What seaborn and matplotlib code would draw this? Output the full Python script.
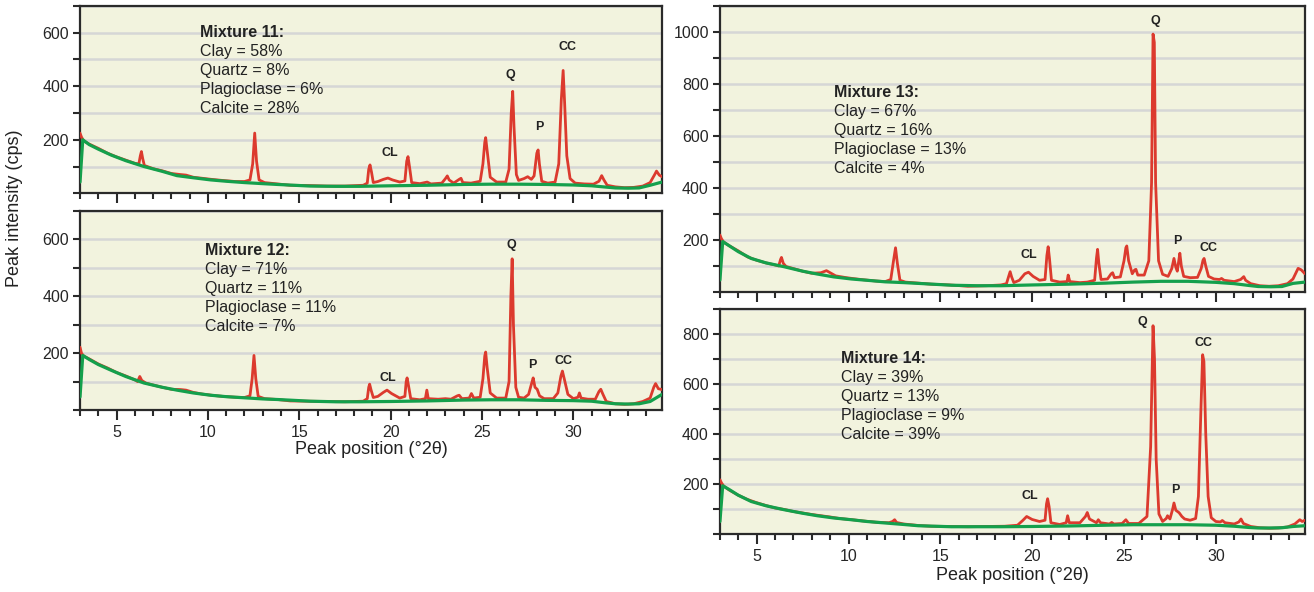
import matplotlib
matplotlib.use("Agg")
import matplotlib.pyplot as plt
from matplotlib.ticker import MultipleLocator
import seaborn as sns
import pandas as pd

# ---------------- data ----------------
bg_2theta = [3.0, 3.15, 3.5, 4.0, 4.7, 5.5, 6.5, 7.5, 8.3, 9.2, 10.15, 11, 12, 13, 13.8,
             15.6, 17, 18.3, 20, 22, 24, 25.5, 27, 28.5, 30, 31, 31.8, 32.3, 33, 33.6, 34.2, 34.85]

mix11_bg = [42, 200, 182, 165, 143, 122, 100, 82, 66, 58, 50, 45, 40, 36, 33,
            27, 26, 26, 28, 30, 33, 34, 34, 33, 31, 28, 23, 20, 19, 20, 30, 42]
mix12_bg = [46, 192, 178, 160, 140, 118, 95, 80, 70, 60, 52, 47, 43, 39, 37,
            31, 29, 29, 30, 32, 35, 36, 36, 34, 33, 31, 25, 22, 21, 22, 30, 55]
mix13_bg = [46, 194, 178, 155, 129, 112, 97, 80, 69, 58, 50, 45, 39, 36, 33,
            26, 24, 24, 27, 30, 34, 38, 41, 41, 37, 32, 25, 21, 20, 21, 33, 38]
mix14_bg = [50, 193, 178, 155, 130, 113, 97, 83, 73, 64, 57, 50, 44, 38, 33,
            29, 29, 29, 30, 32, 35, 37, 37, 37, 35, 31, 26, 24, 24, 25, 30, 33]

mix11_pts = [(3.0,225),(3.08,210),(3.2,196),(3.5,184),(4.0,168),(4.5,150),(5.0,136),(5.5,124),(6.0,112),
 (6.22,110),(6.3,140),(6.36,156),(6.43,130),(6.52,104),(7.0,92),(7.5,84),(8.0,74),(8.5,70),(8.8,68),
 (9.2,60),(9.7,56),(10.2,52),(10.8,48),(11.5,44),(12.0,44),(12.3,50),(12.45,110),(12.56,225),(12.66,120),
 (12.8,50),(13.1,40),(13.8,35),(14.5,30),(15.5,29),(16.5,27),(17.5,27),(18.5,30),(18.72,38),(18.8,90),
 (18.87,106),(18.95,80),(19.05,40),(19.3,44),(19.6,52),(19.85,57),(20.1,50),(20.5,42),(20.78,46),
 (20.88,120),(20.95,137),(21.03,100),(21.15,40),(21.6,36),(22.0,42),(22.2,35),(22.8,38),(23.0,55),
 (23.1,65),(23.2,50),(23.45,38),(23.75,52),(23.85,56),(23.95,40),(24.4,38),(24.9,45),(25.05,110),
 (25.15,190),(25.2,208),(25.28,160),(25.45,60),(25.8,42),(26.3,42),(26.48,90),(26.6,300),(26.68,381),
 (26.75,250),(26.88,70),(27.0,48),(27.3,55),(27.5,62),(27.7,52),(27.85,65),(28.0,150),(28.07,162),
 (28.14,110),(28.27,45),(28.6,38),(29.0,42),(29.2,110),(29.34,350),(29.44,459),(29.52,340),(29.64,140),
 (29.82,55),(30.1,38),(30.6,35),(31.1,34),(31.4,45),(31.55,66),(31.67,50),(31.85,30),(32.3,24),
 (32.8,21),(33.3,22),(33.8,27),(34.2,40),(34.45,70),(34.55,83),(34.7,68),(34.85,62)]

mix12_pts = [(3.0,221),(3.08,200),(3.2,190),(3.5,180),(4.0,162),(4.5,148),(5.0,132),(5.5,120),(6.0,106),
 (6.15,100),(6.27,118),(6.38,104),(6.6,95),(7.0,88),(7.5,80),(8.0,73),(8.5,72),(8.8,70),(9.2,62),
 (9.7,56),(10.2,52),(10.8,48),(11.5,45),(12.0,44),(12.3,50),(12.42,110),(12.52,192),(12.62,110),
 (12.75,48),(13.1,40),(13.8,37),(14.5,32),(15.5,31),(16.5,30),(17.5,29),(18.5,31),(18.72,40),(18.8,80),
 (18.85,91),(18.93,70),(19.05,44),(19.3,48),(19.6,62),(19.8,70),(20.05,58),(20.5,42),(20.78,48),
 (20.85,100),(20.9,113),(20.98,85),(21.1,40),(21.6,36),(21.9,40),(21.98,70),(22.06,40),(22.6,38),
 (23.0,40),(23.3,38),(23.65,50),(23.75,52),(23.9,40),(24.3,42),(24.42,58),(24.55,42),(24.9,45),
 (25.05,110),(25.15,190),(25.2,204),(25.28,150),(25.45,60),(25.8,42),(26.3,42),(26.48,100),(26.58,400),
 (26.65,532),(26.72,300),(26.85,80),(27.0,45),(27.3,42),(27.55,55),(27.72,95),(27.8,113),(27.9,80),
 (28.02,73),(28.15,50),(28.4,40),(28.9,40),(29.15,60),(29.32,120),(29.4,137),(29.5,110),(29.7,55),
 (30.0,40),(30.25,45),(30.33,60),(30.42,42),(30.8,38),(31.2,38),(31.4,65),(31.5,73),(31.62,55),
 (31.8,30),(32.3,22),(32.8,20),(33.3,22),(33.8,30),(34.2,42),(34.4,80),(34.5,93),(34.65,75),(34.85,72)]

mix13_pts = [(3.0,219),(3.08,205),(3.2,192),(3.5,178),(4.0,158),(4.5,135),(5.0,122),(5.5,112),(6.0,104),
 (6.2,100),(6.3,125),(6.35,133),(6.45,110),(6.6,98),(7.0,90),(7.5,80),(8.0,72),(8.5,74),(8.8,82),
 (9.0,74),(9.3,62),(9.8,56),(10.2,52),(10.8,47),(11.5,42),(12.0,40),(12.3,48),(12.45,120),(12.56,170),
 (12.66,110),(12.8,45),(13.1,38),(13.8,34),(14.5,30),(15.5,27),(16.5,22),(17.5,24),(18.3,27),(18.6,32),
 (18.72,60),(18.8,78),(18.88,58),(19.0,36),(19.3,45),(19.6,70),(19.8,76),(20.05,60),(20.4,45),(20.7,48),
 (20.8,140),(20.87,174),(20.94,130),(21.05,45),(21.5,38),(21.9,40),(21.96,65),(22.05,40),(22.6,36),
 (23.0,38),(23.4,45),(23.5,130),(23.56,164),(23.63,110),(23.75,48),(24.1,50),(24.3,70),(24.38,74),
 (24.48,55),(24.8,58),(25.0,120),(25.1,170),(25.15,177),(25.25,120),(25.45,70),(25.58,85),(25.65,87),
 (25.75,65),(26.1,65),(26.35,120),(26.5,420),(26.58,992),(26.65,960),(26.72,420),(26.88,120),(27.1,68),
 (27.4,60),(27.6,90),(27.72,129),(27.82,95),(27.9,80),(28.0,130),(28.04,149),(28.12,100),(28.25,60),
 (28.6,55),(29.0,56),(29.2,90),(29.3,122),(29.36,129),(29.45,100),(29.6,60),(29.9,50),(30.2,48),
 (30.31,52),(30.45,45),(31.0,40),(31.35,48),(31.52,59),(31.62,45),(31.9,32),(32.4,24),(32.9,22),
 (33.4,24),(33.9,32),(34.2,50),(34.48,91),(34.65,85),(34.85,70)]

mix14_pts = [(3.0,217),(3.08,205),(3.2,192),(3.5,176),(4.0,155),(4.5,138),(5.0,125),(5.5,114),(6.0,104),
 (6.5,98),(7.0,90),(7.5,84),(8.0,78),(8.5,73),(9.0,68),(9.5,62),(10.2,57),(10.8,52),(11.5,47),(12.2,45),
 (12.4,50),(12.51,57),(12.62,46),(13.0,40),(13.8,34),(14.5,31),(15.5,30),(16.5,29),(17.5,30),(18.5,31),
 (19.2,35),(19.5,55),(19.7,70),(20.0,58),(20.4,50),(20.7,55),(20.78,120),(20.84,141),(20.92,110),
 (21.02,45),(21.5,38),(21.85,45),(21.93,73),(22.02,45),(22.6,45),(22.9,70),(23.0,86),(23.12,60),
 (23.5,45),(23.6,57),(23.72,45),(24.2,40),(24.33,46),(24.45,40),(24.9,42),(25.1,57),(25.25,42),
 (25.8,42),(26.25,70),(26.45,350),(26.58,833),(26.66,700),(26.75,300),(26.9,80),(27.1,50),(27.3,62),
 (27.37,73),(27.5,60),(27.65,100),(27.72,124),(27.82,95),(28.0,85),(28.15,70),(28.3,60),(28.6,55),
 (28.9,62),(29.05,150),(29.18,480),(29.28,717),(29.35,690),(29.45,400),(29.58,150),(29.75,65),
 (30.0,50),(30.25,48),(30.35,54),(30.5,45),(31.0,40),(31.25,48),(31.37,60),(31.5,42),(31.9,30),
 (32.4,25),(32.9,23),(33.4,24),(33.9,28),(34.3,40),(34.57,57),(34.7,50),(34.85,55)]

peak_names = ["CL", "Q", "P", "CC"]
mix11_labels = [(19.97, 151), (26.57, 443), (28.14, 249), (29.67, 545)]
mix12_labels = [(19.82, 113), (26.59, 579), (27.76, 159), (29.45, 172)]
mix13_labels = [(19.84, 142), (26.72, 1041), (27.9, 197), (29.58, 168)]
mix14_labels = [(19.88, 150), (26.0, 846), (27.8, 174), (29.31, 764)]

mix_titles = ["Mixture 11:", "Mixture 12:", "Mixture 13:", "Mixture 14:"]
mix_comp = [["Clay = 58%", "Quartz = 8%", "Plagioclase = 6%", "Calcite = 28%"],
            ["Clay = 71%", "Quartz = 11%", "Plagioclase = 11%", "Calcite = 7%"],
            ["Clay = 67%", "Quartz = 16%", "Plagioclase = 13%", "Calcite = 4%"],
            ["Clay = 39%", "Quartz = 13%", "Plagioclase = 9%", "Calcite = 39%"]]

# ---------------- style ----------------
sns.set_theme(style="white")
plt.rcParams["font.family"] = ["Liberation Sans", "DejaVu Sans"]

RED = "#DC3A2E"
GREEN = "#14A04C"
FACE = "#F2F3DE"
GRID = "#D6D6D6"
SPINE = "#2A2A2A"

fig = plt.figure(figsize=(13.14, 5.92), dpi=100)
fig.patch.set_facecolor("white")

panels = [
    dict(rect=[0.0609, 0.6735, 0.4429, 0.3164], ymax=700, pts=mix11_pts, bg=mix11_bg,
         labels=mix11_labels, xlab=False, tx=9.57, ty=0.856),
    dict(rect=[0.0609, 0.3074, 0.4429, 0.3361], ymax=700, pts=mix12_pts, bg=mix12_bg,
         labels=mix12_labels, xlab=True, tx=9.84, ty=0.800),
    dict(rect=[0.5479, 0.5068, 0.4452, 0.4831], ymax=1100, pts=mix13_pts, bg=mix13_bg,
         labels=mix13_labels, xlab=False, tx=9.19, ty=0.697),
    dict(rect=[0.5479, 0.0980, 0.4452, 0.3801], ymax=900, pts=mix14_pts, bg=mix14_bg,
         labels=mix14_labels, xlab=True, tx=9.59, ty=0.778),
]

for i, p in enumerate(panels):
    ax = fig.add_axes(p["rect"])
    ax.set_facecolor(FACE)
    df = pd.DataFrame(p["pts"], columns=["two_theta", "counts"])
    bgdf = pd.DataFrame({"two_theta": bg_2theta, "counts": p["bg"]})
    sns.lineplot(data=df, x="two_theta", y="counts", ax=ax, color=RED, linewidth=2.0,
                 estimator=None, sort=False, zorder=3)
    sns.lineplot(data=bgdf, x="two_theta", y="counts", ax=ax, color=GREEN, linewidth=2.3,
                 estimator=None, sort=False, zorder=4)
    ax.set_xlim(3.0, 34.85)
    ax.set_ylim(0, p["ymax"])
    ax.set_xlabel("")
    ax.set_ylabel("")
    ax.xaxis.set_major_locator(MultipleLocator(5))
    ax.xaxis.set_minor_locator(MultipleLocator(1))
    ax.yaxis.set_major_locator(MultipleLocator(200))
    ax.yaxis.set_minor_locator(MultipleLocator(100))
    ax.set_yticks([v for v in range(200, p["ymax"], 200)])
    ax.grid(True, axis="y", which="both", color=GRID, linewidth=1.8)
    ax.grid(False, axis="x", which="both")
    ax.set_axisbelow(True)
    for s in ax.spines.values():
        s.set_visible(True)
        s.set_color(SPINE)
        s.set_linewidth(1.6)
    ax.tick_params(axis="x", which="major", direction="out", length=7, width=1.5,
                   color=SPINE, labelsize=11.5, pad=4, bottom=True, labelbottom=p["xlab"])
    ax.tick_params(axis="x", which="minor", direction="out", length=4.5, width=1.5,
                   color=SPINE, bottom=True)
    ax.tick_params(axis="y", which="both", direction="out", length=5, width=1.5,
                   color=SPINE, labelsize=11.5, pad=3, left=True)
    for name, (lx, ly) in zip(peak_names, p["labels"]):
        ax.text(lx, ly, name, fontsize=9, fontweight="bold", ha="center", va="center",
                color="#222222", zorder=5)
    ax.annotate(mix_titles[i], xy=(p["tx"], p["ty"]), xycoords=("data", "axes fraction"),
                fontsize=11.5, fontweight="bold", ha="left", va="center", color="#222222")
    for j, line in enumerate(mix_comp[i]):
        ax.annotate(line, xy=(p["tx"], p["ty"]), xycoords=("data", "axes fraction"),
                    xytext=(0, -13.6 * (j + 1)), textcoords="offset points",
                    fontsize=11.5, ha="left", va="center", color="#222222")

fig.text(0.0114, 0.6486, "Peak intensity (cps)", rotation=90, ha="center", va="center",
         fontsize=13, color="#222222")
fig.text(0.2823, 0.2399, "Peak position (°2θ)", ha="center", va="center",
         fontsize=13, color="#222222")
fig.text(0.7705, 0.0287, "Peak position (°2θ)", ha="center", va="center",
         fontsize=13, color="#222222")

fig.savefig("out.png", dpi=100)
